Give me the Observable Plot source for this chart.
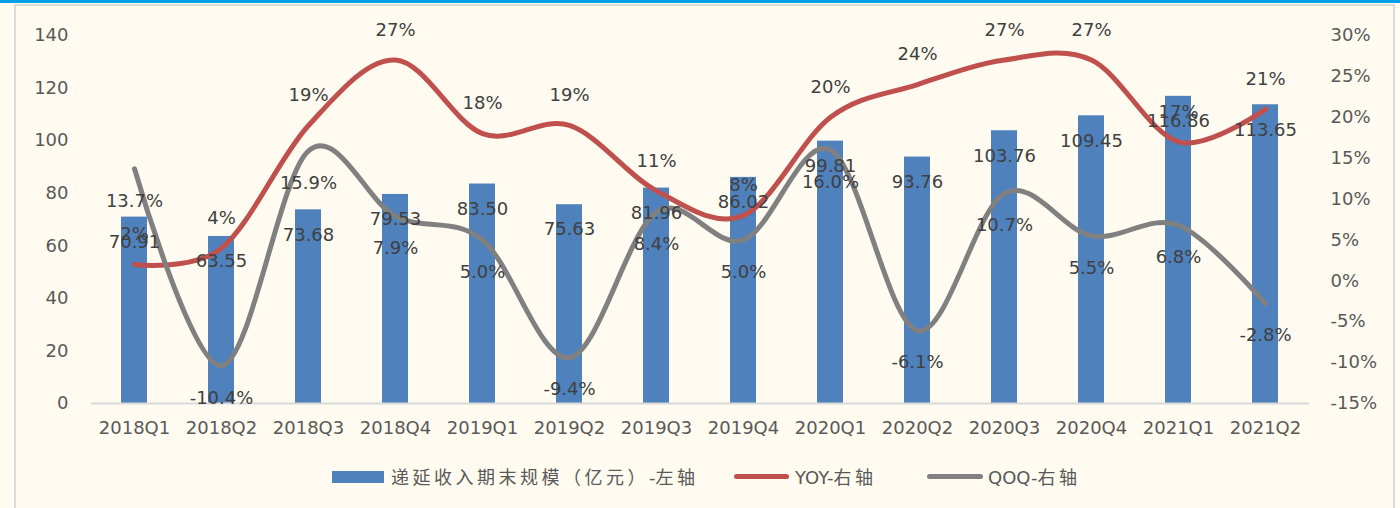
<!DOCTYPE html>
<html><head><meta charset="utf-8">
<script src="https://cdn.jsdelivr.net/npm/d3@7"></script>
<script src="https://cdn.jsdelivr.net/npm/@observablehq/plot@0.6"></script>
<style>
body{margin:0;background:#FFFBF0;width:1400px;height:508px;overflow:hidden;position:relative;font-family:"DejaVu Sans","Noto Sans CJK SC",sans-serif}
#topline{position:absolute;left:0;top:0;width:1400px;height:3px;background:#00A0E9}
#frame{position:absolute;left:14px;top:4px;width:1381px;height:530px;border:2px solid #DADADA;box-sizing:border-box}
#chart{position:absolute;left:0;top:0}
#legend{position:absolute;left:0;top:450px;width:1400px;height:58px;color:#595959;font-size:18px}
.sw{position:absolute}
.lt{position:absolute;top:15px;line-height:22px;white-space:nowrap}
.cjk{font-family:"Noto Sans CJK SC",sans-serif;letter-spacing:3.5px}
</style></head>
<body>
<div id="topline"></div>
<div id="frame"></div>
<div id="chart"></div>
<div id="legend">
  <div class="sw" style="left:332px;top:21px;width:52px;height:12px;background:#4F81BD"></div>
  <div class="lt" style="left:391px"><span class="cjk">递延收入期末规模（亿元）</span>-<span class="cjk">左轴</span></div>
  <div class="sw" style="left:734px;top:24px;width:55px;height:5px;border-radius:3px;background:#C0504D"></div>
  <div class="lt" style="left:795px">YOY-<span class="cjk">右轴</span></div>
  <div class="sw" style="left:927px;top:24px;width:56px;height:5px;border-radius:3px;background:#808080"></div>
  <div class="lt" style="left:988px">QOQ-<span class="cjk">右轴</span></div>
</div>
<script>
const quarters = ["2018Q1","2018Q2","2018Q3","2018Q4","2019Q1","2019Q2","2019Q3","2019Q4","2020Q1","2020Q2","2020Q3","2020Q4","2021Q1","2021Q2"];
const deferredRevenue = [70.91,63.55,73.68,79.53,83.50,75.63,81.96,86.02,99.81,93.76,103.76,109.45,116.86,113.65];
const yoyPct = [2,4,19,27,18,19,11,8,20,24,27,27,17,21];
const qoqPct = [13.7,-10.4,15.9,7.9,5.0,-9.4,8.4,5.0,16.0,-6.1,10.7,5.5,6.8,-2.8];
const leftTicks = [0,20,40,60,80,100,120,140];
const rightTicks = [-15,-10,-5,0,5,10,15,20,25,30];

const L = [0,140], R = [-15,30];
const toLeft = p => (p - R[0]) / (R[1]-R[0]) * (L[1]-L[0]) + L[0];
const fromLeft = v => (v - L[0]) / (L[1]-L[0]) * (R[1]-R[0]) + R[0];

const rows = quarters.map((q,i)=>({q, v: deferredRevenue[i], yoy: yoyPct[i], qoq: qoqPct[i]}));

const chart = Plot.plot({
  width:1400, height:450,
  marginTop:35, marginBottom:47, marginLeft:91, marginRight:91,
  style:{background:"transparent", fontFamily:"DejaVu Sans, sans-serif", fontSize:"18px", color:"#595959", overflow:"visible"},
  x:{type:"band", domain:quarters, paddingInner:0.7, paddingOuter:0.35},
  y:{domain:L},
  marks:[
    Plot.barY(rows,{x:"q", y:"v", fill:"#4F81BD"}),
    Plot.ruleY([0],{stroke:"#D9D9D9", strokeWidth:2}),
    Plot.line(rows,{x:"q", y:d=>toLeft(d.yoy), stroke:"#C0504D", strokeWidth:5, curve:"cardinal", tension:0, strokeLinecap:"round"}),
    Plot.line(rows,{x:"q", y:d=>toLeft(d.qoq), stroke:"#808080", strokeWidth:5, curve:"cardinal", tension:0, strokeLinecap:"round"}),
    Plot.axisX({tickSize:0, tickPadding:18, label:null, fill:"#595959"}),
    Plot.axisY(leftTicks,{anchor:"left", tickSize:0, tickPadding:23, label:null, fill:"#595959"}),
    Plot.axisY(rightTicks.map(toLeft),{anchor:"right", tickSize:0, tickPadding:21, label:null, fill:"#595959",
      tickFormat: v => Math.round(fromLeft(v)) + "%"}),
    Plot.text(rows,{x:"q", y:"v", text:d=>d.v.toFixed(2), dy:25, fill:"#404040"}),
    Plot.text(rows,{x:"q", y:d=>toLeft(d.yoy), text:d=>d.yoy+"%", dy:-30, fill:"#404040"}),
    Plot.text(rows,{x:"q", y:d=>toLeft(d.qoq), text:d=>d.qoq.toFixed(1)+"%", dy:32, fill:"#404040"})
  ]
});
document.getElementById("chart").appendChild(chart);
</script>
</body></html>
